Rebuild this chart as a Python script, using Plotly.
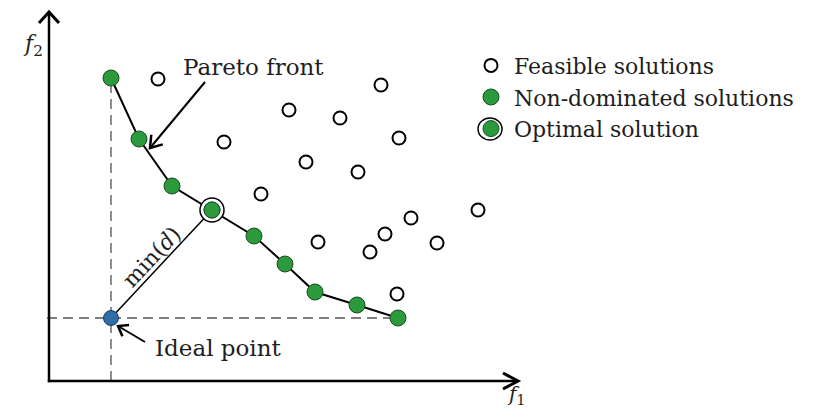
import math
import plotly.graph_objects as go

# ---- data (f1, f2 in arbitrary objective units) ----
feasible_f1 = [10.9, 33.2, 24.0, 29.1, 17.5, 35.0, 25.7, 30.9, 21.2, 42.9, 36.2, 33.6, 26.9, 38.8, 32.1, 34.8]
feasible_f2 = [30.2, 29.6, 27.1, 26.3, 23.9, 24.3, 21.9, 20.9, 18.7, 17.1, 16.3, 14.7, 13.9, 13.8, 12.9, 8.7]

pareto_f1 = [6.2, 9.0, 12.3, 16.3, 20.5, 23.6, 26.6, 30.8, 34.9]
pareto_f2 = [30.3, 24.2, 19.5, 17.1, 14.5, 11.7, 8.9, 7.6, 6.3]

optimal_f1 = [16.3]
optimal_f2 = [17.1]

ideal_f1 = [6.2]
ideal_f2 = [6.3]

axis_f1_max = 46.9
axis_f2_max = 36.9

GREEN = "#2a9a3c"
BLUE = "#2f6ea8"
FONT = "DejaVu Serif"
TXT = "#1e1e1e"

fig = go.Figure()

# dashed guide lines through the ideal point
fig.add_trace(go.Scatter(
    x=[ideal_f1[0], ideal_f1[0]], y=[0, max(pareto_f2)],
    mode="lines", line=dict(color="#555555", width=1.3, dash="10px,6px"),
    showlegend=False, hoverinfo="skip"))
fig.add_trace(go.Scatter(
    x=[-0.2, max(pareto_f1)], y=[ideal_f2[0], ideal_f2[0]],
    mode="lines", line=dict(color="#555555", width=1.3, dash="10px,6px"),
    showlegend=False, hoverinfo="skip"))

# min(d) line
fig.add_trace(go.Scatter(
    x=[ideal_f1[0], optimal_f1[0]], y=[ideal_f2[0], optimal_f2[0]],
    mode="lines", line=dict(color="black", width=1.5),
    showlegend=False, hoverinfo="skip"))

# Pareto front line
fig.add_trace(go.Scatter(
    x=pareto_f1, y=pareto_f2, mode="lines",
    line=dict(color="black", width=2), showlegend=False, hoverinfo="skip"))

# feasible solutions
fig.add_trace(go.Scatter(
    x=feasible_f1, y=feasible_f2, mode="markers", name="Feasible solutions",
    marker=dict(symbol="circle", size=13, color="white",
                line=dict(color="black", width=2))))

# ring of the optimal solution
fig.add_trace(go.Scatter(
    x=optimal_f1, y=optimal_f2, mode="markers", showlegend=False,
    marker=dict(symbol="circle", size=24, color="white",
                line=dict(color="black", width=1.5)), hoverinfo="skip"))

# non-dominated solutions
fig.add_trace(go.Scatter(
    x=pareto_f1, y=pareto_f2, mode="markers", name="Non-dominated solutions",
    marker=dict(symbol="circle", size=16, color=GREEN,
                line=dict(color="#1d4d26", width=1))))

# optimal solution (legend entry)
fig.add_trace(go.Scatter(
    x=optimal_f1, y=optimal_f2, mode="markers", name="Optimal solution",
    marker=dict(symbol="circle", size=16, color=GREEN,
                line=dict(color="#1d4d26", width=1))))

# ideal point
fig.add_trace(go.Scatter(
    x=ideal_f1, y=ideal_f2, mode="markers", showlegend=False,
    marker=dict(symbol="circle", size=15, color=BLUE,
                line=dict(color="#1d3d5e", width=1))))


def arrow_shapes(tail, tip, back, spread, width):
    """Straight shaft plus an open chevron head at the tip (in data units)."""
    dx, dy = tail[0] - tip[0], tail[1] - tip[1]
    n = math.hypot(dx, dy)
    ux, uy = dx / n, dy / n
    px, py = -uy, ux
    a1 = (tip[0] + back * ux + spread * px, tip[1] + back * uy + spread * py)
    a2 = (tip[0] + back * ux - spread * px, tip[1] + back * uy - spread * py)
    shaft = dict(type="line", xref="x", yref="y", x0=tail[0], y0=tail[1], x1=tip[0], y1=tip[1],
                 line=dict(color="black", width=width))
    head = dict(type="path", xref="x", yref="y",
                path=f"M{a1[0]},{a1[1]} L{tip[0]},{tip[1]} L{a2[0]},{a2[1]}",
                line=dict(color="black", width=width + 0.5))
    return [shaft, head]


shapes = []
# axes
shapes += arrow_shapes((-0.12, 0), (axis_f1_max, 0), 1.5, 0.8, 2.5)
shapes += arrow_shapes((0, -0.12), (0, axis_f2_max), 1.1, 1.0, 2.5)
# pointer arrows
shapes += arrow_shapes((15.6, 29.9), (10.1, 23.3), 1.1, 0.75, 2)
shapes += arrow_shapes((9.6, 3.9), (6.9, 5.5), 0.9, 0.65, 2)
# ring around the legend symbol of the optimal solution
shapes.append(dict(type="circle", xref="paper", yref="paper", xsizemode="pixel", ysizemode="pixel",
                   xanchor=0.5973, yanchor=0.699, x0=-12, x1=12, y0=-11, y1=11,
                   line=dict(color="black", width=1.5), fillcolor="rgba(0,0,0,0)"))

ann = []
# axis labels
ann.append(dict(x=-1.6, y=33.6, xref="x", yref="y", text="<i>f</i><sub>2</sub>",
                showarrow=False, font=dict(family=FONT, size=22, color=TXT)))
ann.append(dict(x=46.7, y=-1.4, xref="x", yref="y", text="<i>f</i><sub>1</sub>",
                showarrow=False, font=dict(family=FONT, size=20, color=TXT)))
# labels
ann.append(dict(x=20.45, y=31.4, xref="x", yref="y", text="Pareto front",
                showarrow=False, xanchor="center", font=dict(family=FONT, size=23, color=TXT)))
ann.append(dict(x=16.9, y=3.3, xref="x", yref="y", text="Ideal point",
                showarrow=False, font=dict(family=FONT, size=23, color=TXT)))
ann.append(dict(x=10.2, y=12.4, xref="x", yref="y", text="min(<i>d</i>)",
                showarrow=False, textangle=-47,
                font=dict(family=FONT, size=22, color=TXT)))

fig.update_layout(
    width=807, height=402,
    margin=dict(l=0, r=0, t=0, b=0),
    paper_bgcolor="white", plot_bgcolor="white",
    xaxis=dict(range=[-4.1, 76.6], visible=False, fixedrange=True),
    yaxis=dict(range=[-2.9, 37.3], visible=False, fixedrange=True),
    showlegend=True,
    legend=dict(x=0.570, y=0.909, xanchor="left", yanchor="top",
                font=dict(family=FONT, size=22, color=TXT),
                bgcolor="rgba(0,0,0,0)", itemwidth=36),
    annotations=ann,
    shapes=shapes,
)

fig.write_html("out.html")
